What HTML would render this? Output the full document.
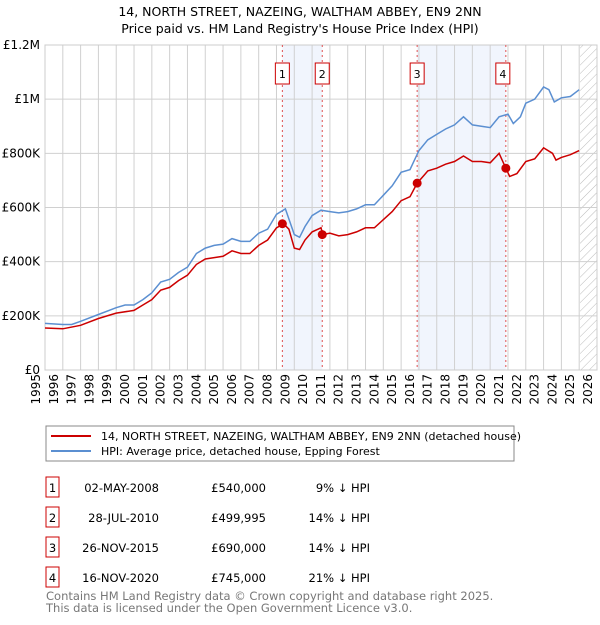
<!DOCTYPE html>
<html><head><meta charset="utf-8"><style>
body{margin:0;background:#fff;font-family:"Liberation Sans","DejaVu Sans",sans-serif;}
svg text{font-family:"DejaVu Sans","Liberation Sans",sans-serif;}
</style></head><body>
<svg id="c" width="600" height="620" xmlns="http://www.w3.org/2000/svg">
<defs><pattern id="hatch" width="6" height="6" patternUnits="userSpaceOnUse" patternTransform="rotate(45)"><line x1="0" y1="0" x2="0" y2="6" stroke="#bbb" stroke-width="1"/></pattern></defs>
<text x="300" y="16" text-anchor="middle" font-size="12.5">14, NORTH STREET, NAZEING, WALTHAM ABBEY, EN9 2NN</text>
<text x="300" y="33" text-anchor="middle" font-size="12.5">Price paid vs. HM Land Registry's House Price Index (HPI)</text>
<g id="plot"></g>
<g>
<rect x="46" y="426" width="468" height="35" fill="#fff" stroke="#888"/>
<line x1="51" y1="436" x2="91" y2="436" stroke="#cc0000" stroke-width="2"/>
<text x="101" y="440" font-size="11">14, NORTH STREET, NAZEING, WALTHAM ABBEY, EN9 2NN (detached house)</text>
<line x1="51" y1="451" x2="91" y2="451" stroke="#5b8fd1" stroke-width="2"/>
<text x="101" y="455" font-size="11">HPI: Average price, detached house, Epping Forest</text>
</g>
<g id="table"></g>
<text x="46" y="600" font-size="11.5" fill="#777">Contains HM Land Registry data © Crown copyright and database right 2025.</text>
<text x="46" y="612" font-size="11.5" fill="#777">This data is licensed under the Open Government Licence v3.0.</text>
</svg>
<script>
const hpiYears=[1995,1996,1996.5,1997,1998,1999,1999.5,2000,2000.5,2001,2001.5,2002,2002.5,2003,2003.5,2004,2004.5,2005,2005.5,2006,2006.5,2007,2007.5,2008,2008.5,2009,2009.3,2009.6,2010,2010.5,2011,2011.5,2012,2012.5,2013,2013.5,2014,2014.5,2015,2015.5,2016,2016.5,2017,2017.5,2018,2018.5,2019,2019.5,2020,2020.5,2021,2021.3,2021.7,2022,2022.5,2023,2023.3,2023.6,2024,2024.5,2025];
const hpiValues=[172,168,168,180,205,230,240,240,260,285,325,335,360,380,430,450,460,465,485,475,475,505,520,575,595,500,490,530,570,590,585,580,585,595,610,610,645,680,730,740,810,850,870,890,905,935,905,900,895,935,945,910,935,985,1000,1045,1035,990,1005,1010,1035];
const propYears=[1995,1996,1997,1998,1999,2000,2000.5,2001,2001.5,2002,2002.5,2003,2003.5,2004,2004.5,2005,2005.5,2006,2006.5,2007,2007.5,2008,2008.4,2008.7,2009,2009.3,2009.6,2010,2010.5,2010.6,2011,2011.5,2012,2012.5,2013,2013.5,2014,2014.5,2015,2015.5,2015.9,2016.3,2016.5,2017,2017.5,2018,2018.5,2019,2019.5,2020,2020.5,2020.88,2021.1,2021.5,2022,2022.5,2023,2023.5,2023.7,2024,2024.5,2025];
const propValues=[155,152,165,190,210,220,240,260,295,305,330,350,390,410,415,420,440,430,430,460,480,525,540,520,450,445,480,510,525,500,505,495,500,510,525,525,555,585,625,640,690,720,735,745,760,770,790,770,770,765,800,745,715,725,770,780,820,800,775,785,795,810];
const saleLabels=["1","2","3","4"];
const saleYears=[2008.33,2010.57,2015.9,2020.88];
const salePrices=[540000,499995,690000,745000];
const saleDates=["02-MAY-2008","28-JUL-2010","26-NOV-2015","16-NOV-2020"];
const salePriceText=["£540,000","£499,995","£690,000","£745,000"];
const saleHpiText=["9% ↓ HPI","14% ↓ HPI","14% ↓ HPI","21% ↓ HPI"];
const yTicks=[0,200000,400000,600000,800000,1000000,1200000];
const yTickLabels=["£0","£200K","£400K","£600K","£800K","£1M","£1.2M"];
const xTicks=[1995,1996,1997,1998,1999,2000,2001,2002,2003,2004,2005,2006,2007,2008,2009,2010,2011,2012,2013,2014,2015,2016,2017,2018,2019,2020,2021,2022,2023,2024,2025,2026];

const NS="http://www.w3.org/2000/svg";
const X0=45,X1=597,Y0=370,Y1=45;
const x=y=>X0+(y-1995)/31*(X1-X0);
const yv=v=>Y0-v/1200000*(Y0-Y1);
const plot=document.getElementById('plot');
function mk(tag,attrs,parent){const e=document.createElementNS(NS,tag);for(const k in attrs)e.setAttribute(k,attrs[k]);(parent||plot).appendChild(e);return e;}
for(const [a,b] of [[0,1],[2,3]]){const r=mk('rect',{x:x(saleYears[a]),y:Y1,width:x(saleYears[b])-x(saleYears[a]),height:Y0-Y1,fill:'#eef3fc',opacity:0.8});

}
const h=mk('rect',{x:x(2025.05),y:Y1,width:X1-x(2025.05),height:Y0-Y1,fill:'url(#hatch)'});


for(const t of xTicks){const l=mk('line',{x1:x(t),x2:x(t),y1:Y1,y2:Y0,stroke:'#d0d0d0','stroke-width':1});


const tx=mk('text',{transform:'translate('+(x(t)-5)+','+(Y0+4)+') rotate(-90)','text-anchor':'end','font-size':12});tx.textContent=t;

}
yTicks.forEach((t,i)=>{const l=mk('line',{x1:X0,x2:X1,y1:yv(t),y2:yv(t),stroke:'#d0d0d0','stroke-width':1});


const tx=mk('text',{x:X0-5,y:yv(t)+4,'text-anchor':'end','font-size':12});tx.textContent=yTickLabels[i];

});
mk('rect',{x:X0,y:Y1,width:X1-X0,height:Y0-Y1,fill:'none',stroke:'#ccc'});
saleYears.forEach((s,i)=>{const l=mk('line',{x1:x(s),x2:x(s),y1:Y1,y2:Y0,stroke:'#e05050','stroke-width':1,'stroke-dasharray':'2,3'});


const bx=x(s)-(i==3?10:7);
const r=mk('rect',{x:bx,y:63,width:14,height:21,fill:'#fff',stroke:'#cc0000'});


const t=mk('text',{x:bx+7,y:78,'text-anchor':'middle','font-size':11});t.textContent=saleLabels[i];

});
function path(xs,vs,col,name){const d=xs.map((t,i)=>(i?'L':'M')+x(t).toFixed(1)+','+yv(vs[i]*1000).toFixed(1)).join('');
const p=mk('path',{d:d,fill:'none',stroke:col,'stroke-width':1.5});

}
path(hpiYears,hpiValues,'#5b8fd1','hpi-line');
path(propYears,propValues,'#cc0000','property-line');
saleYears.forEach((s,i)=>{const c=mk('circle',{cx:x(s),cy:yv(salePrices[i]),r:4.5,fill:'#cc0000'});

});
const tb=document.getElementById('table');
saleYears.forEach((s,i)=>{const y=477+i*30;
const r=mk('rect',{x:46,y:y,width:13,height:20,fill:'#fff',stroke:'#cc0000'},tb);


const vals=[[52.5,saleLabels[i],'middle'],[159,saleDates[i],'end'],[266,salePriceText[i],'end'],[370,saleHpiText[i],'end']];
vals.forEach(([tx,txt,a])=>{const t=mk('text',{x:tx,y:y+15,'font-size':11.5,'text-anchor':a},tb);t.textContent=txt;

});});
</script>
</body></html>
